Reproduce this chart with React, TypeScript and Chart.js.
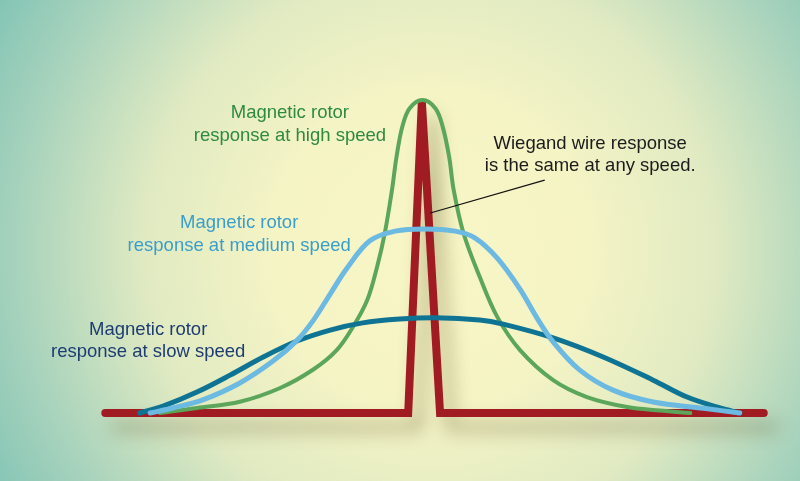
import React, { useEffect, useRef } from "react";
import { Chart, registerables } from "chart.js";

Chart.register(...registerables);

// Position along the rotation (arbitrary units, 0 = magnet centre) and response (0..100)
const wiegandX = [-48.8, -2.2, -0.1, 2.7, 52.5];
const wiegandY = [0, 0, 99.5, 0, 0];

const highX = [-40.4, -34.7, -28.1, -21.9, -16.8, -13.2, -10.7, -8.5, -7.0, -5.8, -4.7, -4.0, -3.1, -2.0, 0.0, 2.0, 3.1, 4.1, 4.8, 6.3, 8.8, 11.5, 15.0, 20.1, 25.3, 31.5, 36.5, 41.2];
const highY = [0, 1.6, 3.6, 8.0, 13.9, 20.1, 27.5, 36.1, 46.6, 57.5, 71.2, 81.8, 91.5, 97.3, 100, 97.3, 91.5, 81.8, 71.2, 57.5, 43.5, 30.7, 20.1, 10.5, 5.1, 1.9, 0.8, 0];

const mediumX = [-41.9, -38.4, -33.8, -28.1, -23.0, -19.3, -16.8, -14.2, -11.6, -8.1, -4.2, 0.4, 5.0, 8.1, 11.5, 15.0, 17.6, 20.1, 24.2, 29.3, 35.5, 43.2, 48.8];
const mediumY = [0, 1.6, 4.2, 9.6, 16.6, 23.2, 29.6, 38.0, 46.3, 55.0, 58.1, 58.8, 58.1, 55.9, 49.5, 39.6, 30.4, 22.7, 13.7, 7.3, 3.5, 1.5, 0];

const slowX = [-43.5, -39.9, -34.7, -29.6, -24.5, -19.3, -14.2, -9.2, -3.5, 2.0, 8.8, 12.4, 20.1, 27.8, 35.5, 40.7, 45.8, 48.8];
const slowY = [0, 2.2, 6.7, 12.1, 17.9, 23.0, 26.5, 28.8, 30.0, 30.4, 29.7, 28.4, 24.0, 17.9, 10.5, 5.1, 1.6, 0];

const labelHigh = ["Magnetic rotor", "response at high speed"];
const labelMedium = ["Magnetic rotor", "response at medium speed"];
const labelSlow = ["Magnetic rotor", "response at slow speed"];
const labelWiegand = ["Wiegand wire response", "is the same at any speed."];

const toPoints = (xs: number[], ys: number[]) => xs.map((x, i) => ({ x, y: ys[i] }));

export default function App() {
  const canvasRef = useRef<HTMLCanvasElement | null>(null);

  useEffect(() => {
    document.body.style.margin = "0";
    const canvas = canvasRef.current;
    if (!canvas) return;

    const background = {
      id: "background",
      beforeDraw(chart: any) {
        const { ctx, width, height } = chart;
        ctx.save();
        const g = ctx.createRadialGradient(430, 250, 0, 430, 250, 520);
        g.addColorStop(0, "#f8f6c6");
        g.addColorStop(0.3, "#f5f4c5");
        g.addColorStop(0.55, "#e0eac2");
        g.addColorStop(0.8, "#a6d2bc");
        g.addColorStop(1, "#7bc1b3");
        ctx.fillStyle = g;
        ctx.fillRect(0, 0, width, height);
        ctx.restore();
      },
    };

    const shadow = {
      id: "redShadow",
      beforeDatasetDraw(chart: any, args: any) {
        if (args.index !== 3) return;
        const ctx = chart.ctx;
        ctx.save();
        ctx.shadowColor = "rgba(95, 85, 40, 0.45)";
        ctx.shadowBlur = 18;
        ctx.shadowOffsetX = 10;
        ctx.shadowOffsetY = 14;
      },
      afterDatasetDraw(chart: any, args: any) {
        if (args.index !== 3) return;
        chart.ctx.restore();
      },
    };

    const annotations = {
      id: "annotations",
      afterDatasetsDraw(chart: any) {
        const { ctx } = chart;
        const xs = chart.scales.x;
        const ys = chart.scales.y;
        ctx.save();
        ctx.strokeStyle = "#111111";
        ctx.lineWidth = 1.2;
        ctx.beginPath();
        ctx.moveTo(xs.getPixelForValue(1.2), ys.getPixelForValue(63.9));
        ctx.lineTo(xs.getPixelForValue(18.8), ys.getPixelForValue(74.4));
        ctx.stroke();

        ctx.font = "18.5px 'Liberation Sans', Arial, sans-serif";
        ctx.textAlign = "center";
        ctx.textBaseline = "middle";
        const put = (lines: string[], x: number, y1: number, y2: number, color: string, widths: number[]) => {
          ctx.fillStyle = color;
          ctx.fillText(lines[0], xs.getPixelForValue(x), ys.getPixelForValue(y1), widths[0]);
          ctx.fillText(lines[1], xs.getPixelForValue(x), ys.getPixelForValue(y2), widths[1]);
        };
        put(labelHigh, -20.4, 95.8, 88.5, "#2e8a3f", [120, 195]);
        put(labelWiegand, 25.8, 85.9, 78.9, "#1b1b1b", [195, 212]);
        put(labelMedium, -28.2, 60.7, 53.4, "#3a9ecb", [120, 225]);
        put(labelSlow, -42.2, 26.5, 19.5, "#1d3c72", [120, 196]);
        ctx.restore();
      },
    };

    const curve = (label: string, xs: number[], ys: number[], color: string, width: number) => ({
      label,
      data: toPoints(xs, ys),
      borderColor: color,
      borderWidth: width,
      tension: 0.35,
      borderCapStyle: "round",
      borderJoinStyle: "round",
      pointRadius: 0,
      fill: false,
      clip: false,
    });

    const chart = new Chart(canvas, {
      type: "line",
      data: {
        datasets: [
          curve("Medium speed", mediumX, mediumY, "#6cb9e2", 5),
          curve("Slow speed", slowX, slowY, "#0f7493", 5),
          curve("High speed", highX, highY, "#5ba65b", 4),
          {
            label: "Wiegand wire",
            data: toPoints(wiegandX, wiegandY),
            borderColor: "#a11b22",
            borderWidth: 8,
            tension: 0,
            borderCapStyle: "round",
            borderJoinStyle: "miter",
            pointRadius: 0,
            fill: false,
            clip: false,
          },
        ] as any,
      },
      options: {
        responsive: false,
        animation: false,
        events: [],
        layout: { padding: { left: 65, right: 20, top: 100, bottom: 68 } },
        plugins: { legend: { display: false }, tooltip: { enabled: false } },
        scales: {
          x: { type: "linear", min: -55, max: 55, display: false },
          y: { type: "linear", min: 0, max: 100, display: false },
        },
      },
      plugins: [background, shadow, annotations],
    });

    return () => chart.destroy();
  }, []);

  return (
    <div style={{ position: "fixed", left: 0, top: 0, width: 800, height: 481 }}>
      <canvas ref={canvasRef} width={800} height={481} />
    </div>
  );
}
